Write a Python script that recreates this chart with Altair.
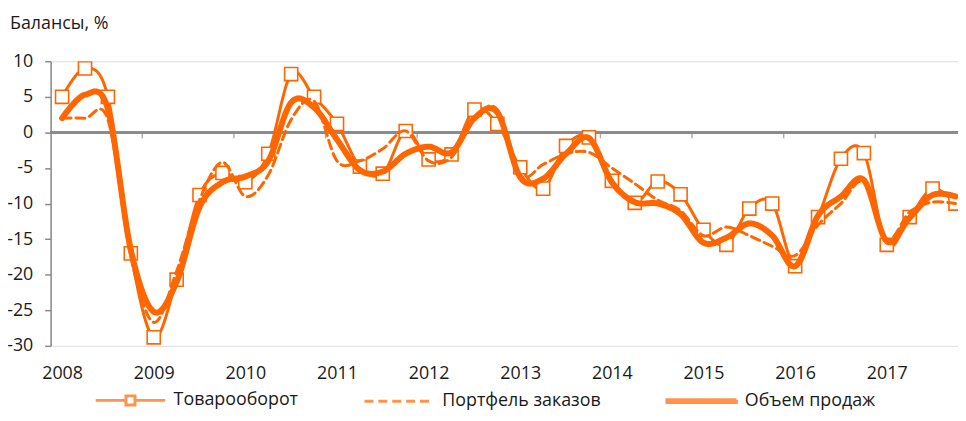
import altair as alt
import pandas as pd

# ---- data (quarterly, 2008Q1 .. 2017Q4) ----
years = list(range(2008, 2018))
series_names = ["Товарооборот", "Портфель заказов", "Объем продаж"]

tovar = [5, 9, 5, -17, -28.8, -20.7, -8.8, -5.7, -7, -3,
         8.2, 5, 1.2, -4.8, -5.8, 0.2, -3.8, -3.1, 3.2, 1.2,
         -4.9, -7.9, -1.9, -0.7, -6.8, -9.9, -6.9, -8.7, -13.7, -15.8,
         -10.7, -10, -18.8, -11.9, -3.7, -2.9, -15.8, -11.9, -7.9, -10]
portfel = [2, 2, 1.8, -17.5, -26.7, -19.5, -9.5, -4.2, -9, -6,
           1.8, 4.4, -4, -4, -2.3, 0.2, -4, -3.5, 2, 3.2,
           -6, -4.5, -3, -2.8, -5, -7.2, -9.5, -11, -14.5, -13.3,
           -14.5, -16, -17.3, -13, -10, -7, -15, -11.2, -9.8, -10]
obem = [2, 5.3, 3.3, -16.5, -25.2, -21, -10.5, -7, -6.2, -4,
        4.2, 3.5, -1, -5.3, -5.5, -3, -2, -2.8, 2, 2.8,
        -6.3, -6.5, -3, -0.8, -7, -9.8, -10, -11.5, -15.5, -14.8,
        -12.8, -14.5, -18.8, -11.7, -9, -6.7, -15.3, -12, -8.8, -9]

ORANGE = "#FF6600"
GRAY = "#8a8a8a"
TEXT = "#1a1a1a"
FONT = "Open Sans"

rows = []
for name, vals in zip(series_names, [tovar, portfel, obem]):
    for i, v in enumerate(vals):
        rows.append({"q": i, "value": v, "series": name})
df = pd.DataFrame(rows)

year_ticks = [4 * k for k in range(len(years))]
boundaries = pd.DataFrame({"b": [4 * k - 0.5 for k in range(1, len(years))]})

x_scale = alt.Scale(domain=[-0.5, 39.11], nice=False, zero=False)
y_scale = alt.Scale(domain=[-30, 10], nice=False, zero=False)

x_axis = alt.Axis(values=year_ticks, labelExpr="'' + (2008 + datum.value / 4)",
                  domain=False, ticks=False, grid=False, title=None, labelOverlap=False,
                  labelFontSize=18, labelFont=FONT, labelColor=TEXT, labelPadding=19)
y_axis = alt.Axis(values=list(range(-30, 11, 5)), labelExpr="'' + datum.value",
                  grid=False, title=None, tickSize=6, tickColor=GRAY, tickWidth=1.5,
                  domainColor=GRAY, domainWidth=1.5, labelOverlap=False,
                  labelFontSize=18, labelFont=FONT, labelColor=TEXT, labelPadding=12)

X = alt.X("q:Q", scale=x_scale, axis=x_axis)
Y = alt.Y("value:Q", scale=y_scale, axis=y_axis)
Y0 = alt.Y(datum=0, scale=y_scale, axis=y_axis)

legend = alt.Legend(title=None, orient="none", direction="horizontal",
                    legendX=44, legendY=305, symbolSize=4900, symbolStrokeWidth=3,
                    labelFont=FONT, labelFontSize=18, labelColor=TEXT, labelOffset=7,
                    columnPadding=60, padding=0)

color_enc = alt.Color("series:N", scale=alt.Scale(domain=series_names, range=[ORANGE] * 3), legend=legend)
dash_enc = alt.StrokeDash("series:N", scale=alt.Scale(domain=series_names, range=[[1, 0], [9, 5], [1, 0]]), legend=legend)
shape_paths = [
    "M-1,0H-0.13M0.13,0H1M-0.13,-0.13H0.13V0.13H-0.13Z",
    "M-1,0H1",
    "M-1,-0.04H1V0.04H-1Z",
]
shape_enc = alt.Shape("series:N", scale=alt.Scale(domain=series_names, range=shape_paths), legend=legend)

base = alt.Chart(df)

zero_line = alt.Chart(df).mark_rule(color=GRAY, strokeWidth=1.5).encode(y=Y0)
zero_ticks = alt.Chart(boundaries).mark_tick(orient="vertical", size=6, yOffset=3, thickness=1.5,
                                             color=GRAY).encode(
    x=alt.X("b:Q", scale=x_scale, axis=x_axis), y=Y0)

def line_layer(name, width):
    return base.transform_filter(alt.datum.series == name).mark_line(
        interpolate="cardinal", strokeWidth=width, clip=True, strokeCap="round", strokeJoin="round"
    ).encode(x=X, y=Y, color=color_enc, strokeDash=dash_enc, order="q:Q")

l_tovar = line_layer("Товарооборот", 3)
pts = base.transform_filter(alt.datum.series == "Товарооборот").mark_point(
    shape="square", size=175, filled=True, fill="white", stroke=ORANGE, strokeWidth=1.6,
    opacity=1, clip=True).encode(x=X, y=Y)
l_port = line_layer("Портфель заказов", 3)
l_obem = line_layer("Объем продаж", 6)

legend_dummy = base.transform_filter("false").mark_point(filled=False, color=ORANGE).encode(
    x=X, y=Y, shape=shape_enc, color=color_enc, strokeDash=dash_enc)

chart = alt.layer(zero_line, zero_ticks, l_tovar, pts, l_port, l_obem, legend_dummy).properties(
    width=915, height=287,
    title=alt.TitleParams("Балансы, %", anchor="start", frame="group", fontSize=18, font=FONT,
                          fontWeight="normal", color=TEXT, dx=-41, offset=20),
    autosize=alt.AutoSizeParams(type="none"),
    padding={"left": 43, "top": 52, "right": 0, "bottom": 66},
).configure_view(stroke=None).configure(background="white")

chart.save("out.html", embed_options={"renderer": "svg", "actions": False})
